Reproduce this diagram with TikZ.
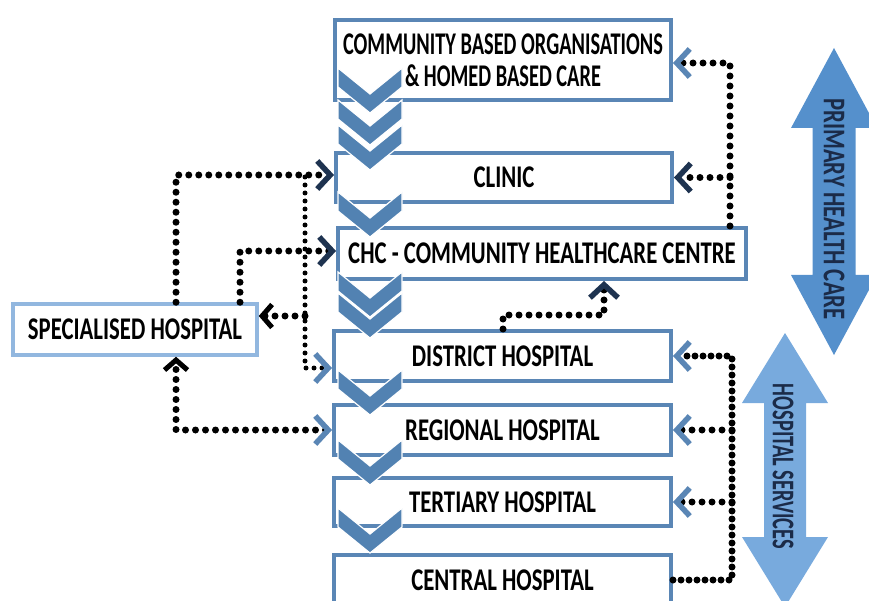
\documentclass[tikz,border=0pt]{standalone}
\usepackage{fontspec}
\setmainfont{Carlito}
\newfontfamily\lblfont[FakeStretch=0.72]{Carlito}
\newfontfamily\narrowfont[FakeStretch=0.645]{Carlito}
\usetikzlibrary{arrows.meta}
\definecolor{boxblue}{HTML}{5A86B5}
\definecolor{chevblue}{HTML}{5282B2}
\definecolor{lightbox}{HTML}{92B7DF}
\definecolor{tipblue}{HTML}{5A86B5}
\definecolor{tipnavy}{HTML}{1E3350}
\definecolor{arrowdark}{HTML}{5590CC}
\definecolor{arrowlight}{HTML}{78AADD}
\definecolor{navytext}{HTML}{1B2B48}
\begin{document}
\begin{tikzpicture}[x=1pt,y=-1pt,
  levelbox/.style={draw=boxblue, line width=4pt, fill=white, inner sep=0pt,
    font=\lblfont\bfseries\fontsize{31.6}{32}\selectfont},
  spbox/.style={levelbox, draw=lightbox, line width=3.5pt},
  dotline/.style={line width=7pt, line cap=round, dash pattern=on 0pt off 10pt},
  densedot/.style={line width=7pt, line cap=round, dash pattern=on 0pt off 8pt},
  finedot/.style={line width=5pt, line cap=round, dash pattern=on 0pt off 8pt},
  arrB/.style={-{Straight Barb[length=13pt,width=28pt,line width=5.5pt,color=tipblue]}},
  arrN/.style={-{Straight Barb[length=13pt,width=28pt,line width=5.5pt,color=tipnavy]}},
  arrK/.style={-{Straight Barb[length=10pt,width=23pt,line width=5pt,color=black]}},
  arrBK/.style={{Straight Barb[length=13pt,width=28pt,line width=5.5pt,color=tipblue]}-{Straight Barb[length=10pt,width=23pt,line width=5pt,color=black]}},
  vlabel/.style={rotate=-90, text=navytext, inner sep=0pt},
]
\useasboundingbox (0,0) rectangle (869,601);

% level boxes
\node[levelbox, minimum width=336pt, minimum height=80pt, align=center,
  font=\narrowfont\bfseries\fontsize{31.6}{32}\selectfont] (cbo) at (503,60)
  {COMMUNITY BASED ORGANISATIONS\\\& HOMED BASED CARE};
\node[levelbox, minimum width=336pt, minimum height=49pt] (clinic) at (504,177.5) {CLINIC};
\node[levelbox, minimum width=408pt, minimum height=51pt] (chc) at (542,253.5) {CHC - COMMUNITY HEALTHCARE CENTRE};
\node[levelbox, minimum width=337pt, minimum height=50pt] (district) at (502.5,356) {DISTRICT HOSPITAL};
\node[levelbox, minimum width=337pt, minimum height=50pt] (regional) at (502.5,430) {REGIONAL HOSPITAL};
\node[levelbox, minimum width=337pt, minimum height=48pt] (tertiary) at (502.5,502) {TERTIARY HOSPITAL};
\node[levelbox, minimum width=337pt, minimum height=50pt] (central) at (502.5,580) {CENTRAL HOSPITAL};
\node[spbox, minimum width=244pt, minimum height=51pt] (spec) at (135,329.5) {SPECIALISED HOSPITAL};

% chevrons down the left of the column
\foreach \t in {508,440,370,293,272,192,125,100,68}{
  \filldraw[fill=chevblue, draw=white, line width=1.2pt]
    (338,\t) -- (370,\t+26) -- (402,\t) -- (402,\t+19) -- (370,\t+45) -- (338,\t+19) -- cycle;
}

% big double arrows
\fill[arrowdark] (834,48) -- (877,128) -- (855.5,128) -- (855.5,275) -- (877,275)
  -- (834,355) -- (791,275) -- (812.5,275) -- (812.5,128) -- (791,128) -- cycle;
\fill[arrowlight] (785,333) -- (828,403) -- (806,403) -- (806,537) -- (828,537)
  -- (785,607) -- (742,537) -- (764,537) -- (764,403) -- (742,403) -- cycle;
\node[vlabel, font=\lblfont\bfseries\fontsize{31.6}{32}\selectfont] (phc) at (834,209) {PRIMARY HEALTH CARE};
\node[vlabel, font=\narrowfont\bfseries\fontsize{31.6}{32}\selectfont] (hs) at (783,466.5) {HOSPITAL SERVICES};

% right top connectors
\coordinate (rt) at (730,63);
\draw[dotline,arrB] (chc.north -| rt) -- (rt) -- (cbo.east |- rt);
\draw[dotline,arrN] (rt |- clinic.east) -- (clinic.east);

% left connectors
\coordinate (a1) at (176,175);
\draw[dotline,arrN] (spec.north -| a1) -- (a1) -- (clinic.west |- a1);
\coordinate (b1) at (240,251);
\draw[dotline,arrN] (spec.north -| b1) -- (b1) -- (chc.west |- b1);
\coordinate (c1) at (305,177);
\coordinate (c2) at (305,368);
\coordinate (c3) at (305,316);
\draw[finedot,arrB] (c1) -- (c2) -- (district.west |- c2);
\draw[dotline,arrK] (c3) -- (spec.east |- c3);
\coordinate (d1) at (176,430);
\draw[dotline,arrBK] (regional.west) -- (d1) -- (spec.south -| d1);

% middle connector
\coordinate (m1) at (503,315);
\coordinate (m2) at (604,315);
\draw[dotline,arrN] (district.north -| m1) -- (m1) -- (m2) -- (chc.south -| m2);

% right bottom connectors
\coordinate (r1) at (732,580);
\coordinate (r2) at (732,356);
\draw[densedot,arrB] (central.east |- r1) -- (r1) -- (r2) -- (district.east);
\draw[dotline,arrB] (r1 |- regional.east) -- (regional.east);
\draw[dotline,arrB] (r1 |- tertiary.east) -- (tertiary.east);
\end{tikzpicture}
\end{document}
